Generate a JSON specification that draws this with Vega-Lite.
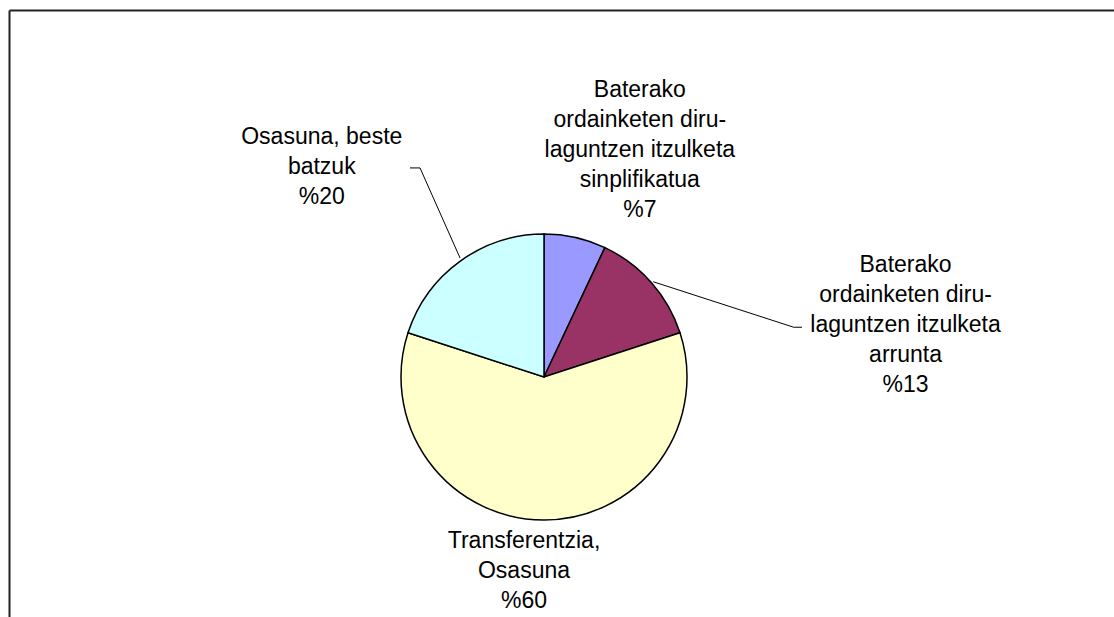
{
  "$schema": "https://vega.github.io/schema/vega-lite/v6.json",
  "autosize": "none",
  "width": 1105,
  "height": 607,
  "padding": {"left": 9, "top": 10, "right": 0, "bottom": 0},
  "background": "white",
  "config": {
    "view": {"stroke": null},
    "axis": {"domain": true, "domainColor": "#222222", "domainWidth": 2, "ticks": false, "labels": false, "grid": false, "title": null},
    "text": {"font": "Liberation Sans", "fontSize": 23, "lineHeight": 30, "align": "center", "baseline": "middle", "color": "black"}
  },
  "datasets": {
    "slices": [
      {"kategoria": "Baterako ordainketen diru-laguntzen itzulketa sinplifikatua", "ehunekoa": 7, "n": 1, "etiketa": "Baterako\nordainketen diru-\nlaguntzen itzulketa\nsinplifikatua\n%7"},
      {"kategoria": "Baterako ordainketen diru-laguntzen itzulketa arrunta", "ehunekoa": 13, "n": 2, "etiketa": "Baterako\nordainketen diru-\nlaguntzen itzulketa\narrunta\n%13"},
      {"kategoria": "Transferentzia, Osasuna", "ehunekoa": 60, "n": 3, "etiketa": "Transferentzia,\nOsasuna\n%60"},
      {"kategoria": "Osasuna, beste batzuk", "ehunekoa": 20, "n": 4, "etiketa": "Osasuna, beste\nbatzuk\n%20"}
    ],
    "leaders": [
      {"lerroa": "osasuna", "k": 1, "px": -0.937, "py": 1.462},
      {"lerroa": "osasuna", "k": 2, "px": -0.867, "py": 1.462},
      {"lerroa": "osasuna", "k": 3, "px": -0.587, "py": 0.832},
      {"lerroa": "arrunta", "k": 1, "px": 0.764, "py": 0.666},
      {"lerroa": "arrunta", "k": 2, "px": 1.746, "py": 0.348},
      {"lerroa": "arrunta", "k": 3, "px": 1.804, "py": 0.348}
    ]
  },
  "layer": [
    {
      "data": {"name": "leaders"},
      "mark": {"type": "line", "color": "black", "strokeWidth": 1},
      "encoding": {
        "x": {"field": "px", "type": "quantitative", "scale": {"domain": [-3.7413, 3.986], "nice": false, "zero": false}, "axis": {"orient": "top"}},
        "y": {"field": "py", "type": "quantitative", "scale": {"domain": [-1.6783, 2.5664], "nice": false, "zero": false}, "axis": {"orient": "left"}},
        "detail": {"field": "lerroa"},
        "order": {"field": "k"}
      }
    },
    {
      "data": {"name": "slices"},
      "mark": {"type": "arc", "radius": 143, "stroke": "black", "strokeWidth": 1.5},
      "encoding": {
        "x": {"datum": 0, "type": "quantitative"},
        "y": {"datum": 0, "type": "quantitative"},
        "theta": {"field": "ehunekoa", "type": "quantitative", "stack": true},
        "order": {"field": "n"},
        "color": {"field": "kategoria", "type": "nominal", "legend": null, "scale": {"domain": ["Baterako ordainketen diru-laguntzen itzulketa sinplifikatua", "Baterako ordainketen diru-laguntzen itzulketa arrunta", "Transferentzia, Osasuna", "Osasuna, beste batzuk"], "range": ["#9999FF", "#993366", "#FFFFCC", "#CCFFFF"]}}
      }
    },
    {
      "data": {"name": "slices"},
      "mark": {"type": "text", "radius": 233, "dx": 45, "dy": -60, "lineBreak": "\n"},
      "encoding": {
        "x": {"datum": 0, "type": "quantitative"},
        "y": {"datum": 0, "type": "quantitative"},
        "theta": {"field": "ehunekoa", "type": "quantitative", "stack": true},
        "order": {"field": "n"},
        "text": {"condition": {"test": "datum.n === 1", "field": "etiketa"}, "value": ""}
      }
    },
    {
      "data": {"name": "slices"},
      "mark": {"type": "text", "radius": 250, "dx": 174, "dy": 53, "lineBreak": "\n"},
      "encoding": {
        "x": {"datum": 0, "type": "quantitative"},
        "y": {"datum": 0, "type": "quantitative"},
        "theta": {"field": "ehunekoa", "type": "quantitative", "stack": true},
        "order": {"field": "n"},
        "text": {"condition": {"test": "datum.n === 2", "field": "etiketa"}, "value": ""}
      }
    },
    {
      "data": {"name": "slices"},
      "mark": {"type": "text", "radius": 194, "dx": -20, "dy": -30, "lineBreak": "\n"},
      "encoding": {
        "x": {"datum": 0, "type": "quantitative"},
        "y": {"datum": 0, "type": "quantitative"},
        "theta": {"field": "ehunekoa", "type": "quantitative", "stack": true},
        "order": {"field": "n"},
        "text": {"condition": {"test": "datum.n === 3", "field": "etiketa"}, "value": ""}
      }
    },
    {
      "data": {"name": "slices"},
      "mark": {"type": "text", "radius": 259, "dx": -70, "dy": -30, "lineBreak": "\n"},
      "encoding": {
        "x": {"datum": 0, "type": "quantitative"},
        "y": {"datum": 0, "type": "quantitative"},
        "theta": {"field": "ehunekoa", "type": "quantitative", "stack": true},
        "order": {"field": "n"},
        "text": {"condition": {"test": "datum.n === 4", "field": "etiketa"}, "value": ""}
      }
    }
  ]
}
